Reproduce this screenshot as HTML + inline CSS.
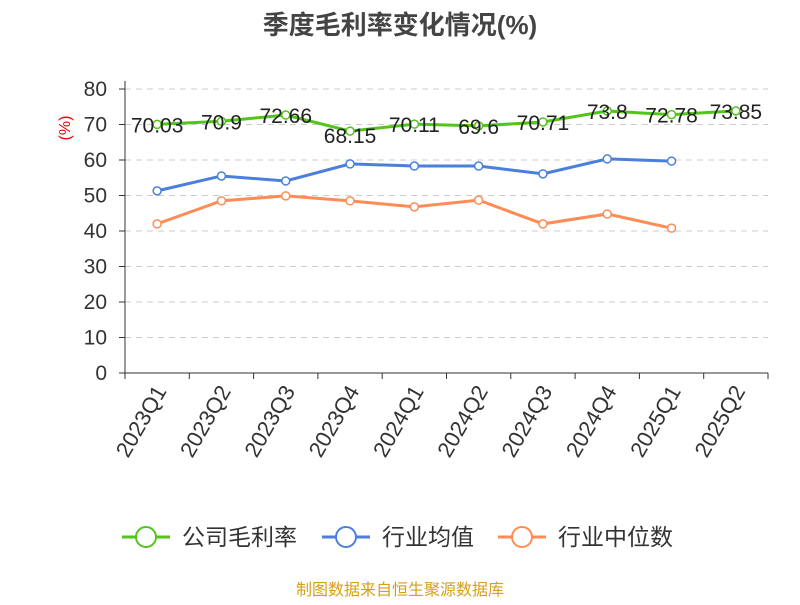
<!DOCTYPE html>
<html><head><meta charset="utf-8"><style>
body{margin:0;background:#fff;font-family:"Liberation Sans","Noto Sans CJK SC",sans-serif}
svg text{font-family:"Liberation Sans","Noto Sans CJK SC",sans-serif}
</style></head><body>
<svg id="c" width="800" height="600">
<text x="400" y="34" text-anchor="middle" font-size="26" font-weight="bold" fill="#444">季度毛利率变化情况(%)</text>
<text x="70" y="128" fill="#e00" font-size="16" transform="rotate(-90 70 128)" text-anchor="middle">(%)</text>
<g id="grid"></g><g id="axes"></g><g id="series"></g>
<g>
<g><line x1="122" y1="537" x2="170" y2="537" stroke="#52c41a" stroke-width="3"/><circle cx="146" cy="537" r="10" fill="#fff" stroke="#52c41a" stroke-width="2"/><text x="182" y="545" font-size="23" fill="#333">公司毛利率</text></g>
<g><line x1="322" y1="537" x2="370" y2="537" stroke="#4a7fdc" stroke-width="3"/><circle cx="346" cy="537" r="10" fill="#fff" stroke="#4a7fdc" stroke-width="2"/><text x="382" y="545" font-size="23" fill="#333">行业均值</text></g>
<g><line x1="498" y1="537" x2="546" y2="537" stroke="#ff8c55" stroke-width="3"/><circle cx="522" cy="537" r="10" fill="#fff" stroke="#ff8c55" stroke-width="2"/><text x="558" y="545" font-size="23" fill="#333">行业中位数</text></g>
</g>
<text x="400" y="595" text-anchor="middle" font-size="16" fill="#d4a017">制图数据来自恒生聚源数据库</text>
</svg>
<script>
const categories=["2023Q1","2023Q2","2023Q3","2023Q4","2024Q1","2024Q2","2024Q3","2024Q4","2025Q1","2025Q2"];
const grossMargin=[70.03,70.9,72.66,68.15,70.11,69.6,70.71,73.8,72.78,73.85];
const industryMean=[51.3,55.5,54.1,58.9,58.3,58.3,56.1,60.3,59.7,null];
const industryMedian=[42.0,48.5,49.9,48.5,46.8,48.7,42.0,44.8,40.8,null];
const yTicks=[0,10,20,30,40,50,60,70,80];
const NS="http://www.w3.org/2000/svg";
const x0=125,x1=768,y0=373,y80=89;
const step=(x1-x0)/categories.length;
const xs=i=>x0+step*(i+0.5);
const ys=v=>y0-(v/80)*(y0-y80);
function mk(t,a,p){const e=document.createElementNS(NS,t);for(const k in a)e.setAttribute(k,a[k]);p.appendChild(e);return e;}
const grid=document.getElementById('grid'),axes=document.getElementById('axes'),ser=document.getElementById('series');
yTicks.forEach(v=>{
 if(v>0){const g=mk('line',{x1:x0,x2:x1,y1:ys(v),y2:ys(v),stroke:'#ccc','stroke-dasharray':'6,5'},grid);
 
 }
 const t=mk('text',{x:x0-18,y:ys(v)+7,'text-anchor':'end','font-size':21,fill:'#333'},axes);t.textContent=v;
 
 
 mk('line',{x1:x0-6,x2:x0,y1:ys(v),y2:ys(v),stroke:'#333'},axes);
});
const ya=mk('line',{x1:x0,x2:x0,y1:y80-8,y2:y0,stroke:'#333'},axes);


const xa=mk('line',{x1:x0,x2:x1,y1:y0,y2:y0,stroke:'#333'},axes);


for(let i=0;i<=categories.length;i++)mk('line',{x1:x0+step*i,x2:x0+step*i,y1:y0,y2:y0+6,stroke:'#333'},axes);
categories.forEach((c,i)=>{
 const x=xs(i)+10,y=y0+18;
 const t=mk('text',{x:x,y:y,'text-anchor':'end','font-size':22,fill:'#333',transform:`rotate(-60 ${x} ${y})`},axes);t.textContent=c;
 
 
});
function draw(data,color,name,labels){
 const g=mk('g',{},ser);
 
 
 const pts=data.map((v,i)=>v==null?null:[xs(i),ys(v)]).filter(p=>p);
 mk('polyline',{points:pts.map(p=>p.join(',')).join(' '),fill:'none',stroke:color,'stroke-width':3},g);
 data.forEach((v,i)=>{if(v==null)return;
  const c=mk('circle',{cx:xs(i),cy:ys(v),r:4,fill:'#fff',stroke:color,'stroke-width':1.5},g);
  
  
  if(labels){const t=mk('text',{x:xs(i),y:ys(v)+(i==3?12:8),'text-anchor':'middle','font-size':21,fill:'#222'},g);t.textContent=v;
  
  }
 });
}
draw(industryMedian,'#ff8c55','industry-median-line',false);
draw(industryMean,'#4a7fdc','industry-mean-line',false);
draw(grossMargin,'#52c41a','gross-margin-line',true);
</script>
</body></html>
